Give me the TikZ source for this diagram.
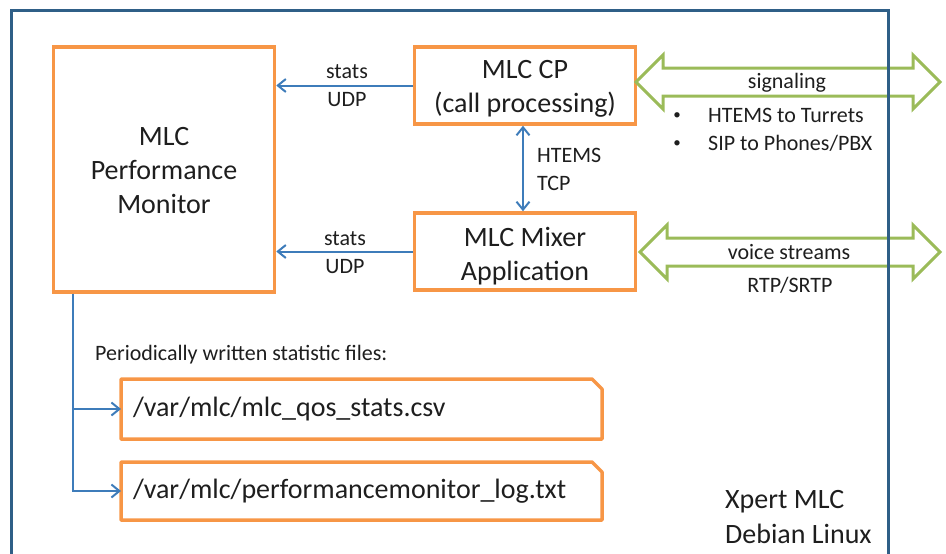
\documentclass[tikz,border=0pt]{standalone}
\usepackage{fontspec}
\setmainfont{Carlito}
\usetikzlibrary{arrows.meta}
\definecolor{orng}{HTML}{F79646}
\definecolor{grn}{HTML}{9BBB59}
\definecolor{conblue}{HTML}{3E7CBA}
\definecolor{frame}{HTML}{2F5F87}
\definecolor{txt}{HTML}{1E1E1E}
\begin{document}
\begin{tikzpicture}[x=1pt,y=-1pt,
  box/.style={draw=orng, line width=3.5pt, inner sep=0pt},
  boxtext/.style={align=center, text=txt, font=\fontsize{28}{34}\selectfont, inner sep=0pt},
  lbl/.style={text=txt, font=\fontsize{22}{28}\selectfont, inner sep=0pt},
  big/.style={text=txt, font=\fontsize{28}{35}\selectfont, inner sep=0pt},
  tip/.tip={Straight Barb[length=8pt,width=13pt]},
  conn/.style={draw=conblue, line width=2pt, -tip},
  fat/.style={draw=grn, line width=3pt, fill=white, line join=miter},
  filebox/.style={text=txt, font=\fontsize{28}{34}\selectfont, text width=457pt,
    align=left, inner xsep=12pt, inner ysep=0pt, outer sep=0pt, anchor=west},
  fileline/.style={draw=orng, line width=3.5pt, line join=round}]
\useasboundingbox (0,0) rectangle (946,554);

% main boxes
\node[box, minimum width=221pt, minimum height=245pt] (pm) at (164,169.5) {};
\node[boxtext] (pmt) at ([yshift=-1.5pt]pm.center) {MLC\\Performance\\Monitor};
\node[box, minimum width=221pt, minimum height=77pt] (cp) at (525,85.5) {};
\node[boxtext] (cpt) at ([yshift=-3.5pt]cp.center) {MLC CP\\(call processing)};
\node[box, minimum width=221pt, minimum height=77pt] (mx) at (525,251.5) {};
\node[boxtext] (mxt) at ([yshift=-4.5pt]mx.center) {MLC Mixer\\Application};

% stats connectors
\draw[conn] (cp.west) -- (cp.west -| pm.east);
\draw[conn] (mx.west) -- (mx.west -| pm.east);
\node[lbl] (s1) at (347,72) {stats};
\node[lbl] (u1) at (347,100) {UDP};
\node[lbl] (s2) at (345,239) {stats};
\node[lbl] (u2) at (345,267) {UDP};

% HTEMS
\draw[conn, tip-tip] ([xshift=-2pt]cp.south) -- ([xshift=-2pt]mx.north);
\node[lbl, anchor=west] (ht) at (537,155) {HTEMS};
\node[lbl, anchor=west] (tcp) at (537,183) {TCP};

% green double arrows
\draw[fat] (636,82) -- (663,55) -- (663,68) -- (913,68) -- (913,55) -- (940,82)
  -- (913,109) -- (913,96) -- (663,96) -- (663,109) -- cycle;
\draw[fat] (640,252) -- (667,225) -- (667,238) -- (913,238) -- (913,225) -- (940,252)
  -- (913,279) -- (913,266) -- (667,266) -- (667,279) -- cycle;
\node[lbl] (sig) at (787,83) {signaling};
\node[text=txt, font=\fontsize{15}{15}\selectfont, inner sep=0pt] (b1) at (677,116) {\textbullet};
\node[lbl, anchor=west] (t1) at (708,115) {HTEMS to Turrets};
\node[text=txt, font=\fontsize{15}{15}\selectfont, inner sep=0pt] (b2) at (677,144) {\textbullet};
\node[lbl, anchor=west] (t2) at (708,143) {SIP to Phones/PBX};
\node[lbl] (vs) at (789,252) {voice streams};
\node[lbl] (rtp) at (790,285) {RTP/SRTP};

% files
\node[lbl, anchor=west] (per) at (95,355) {Periodically written statistic files:};
\node[filebox, minimum height=60pt] (f1) at (121,409) {/var/mlc/mlc\_qos\_stats.csv};
\node[filebox, minimum height=58pt] (f2) at (121,491) {/var/mlc/performancemonitor\_log.txt};
\draw[fileline] (f1.south west) -- (f1.north west) -- ([xshift=-10pt]f1.north east)
  -- ([yshift=-10pt]f1.north east) -- (f1.south east) -- cycle;
\draw[fileline] (f2.south west) -- (f2.north west) -- ([xshift=-10pt]f2.north east)
  -- ([yshift=-10pt]f2.north east) -- (f2.south east) -- cycle;
\coordinate (tap) at ([xshift=21pt]pm.south west);
\draw[conn] (tap) |- (f1.west);
\draw[conn] (tap) |- (f2.west);

% label
\node[big, anchor=west, align=left] (xp) at (725,517.5) {Xpert MLC\\Debian Linux};

% outer frame
\draw[frame, line width=3pt] (11,556) |- (888,10) -- (888,556);
\end{tikzpicture}
\end{document}
